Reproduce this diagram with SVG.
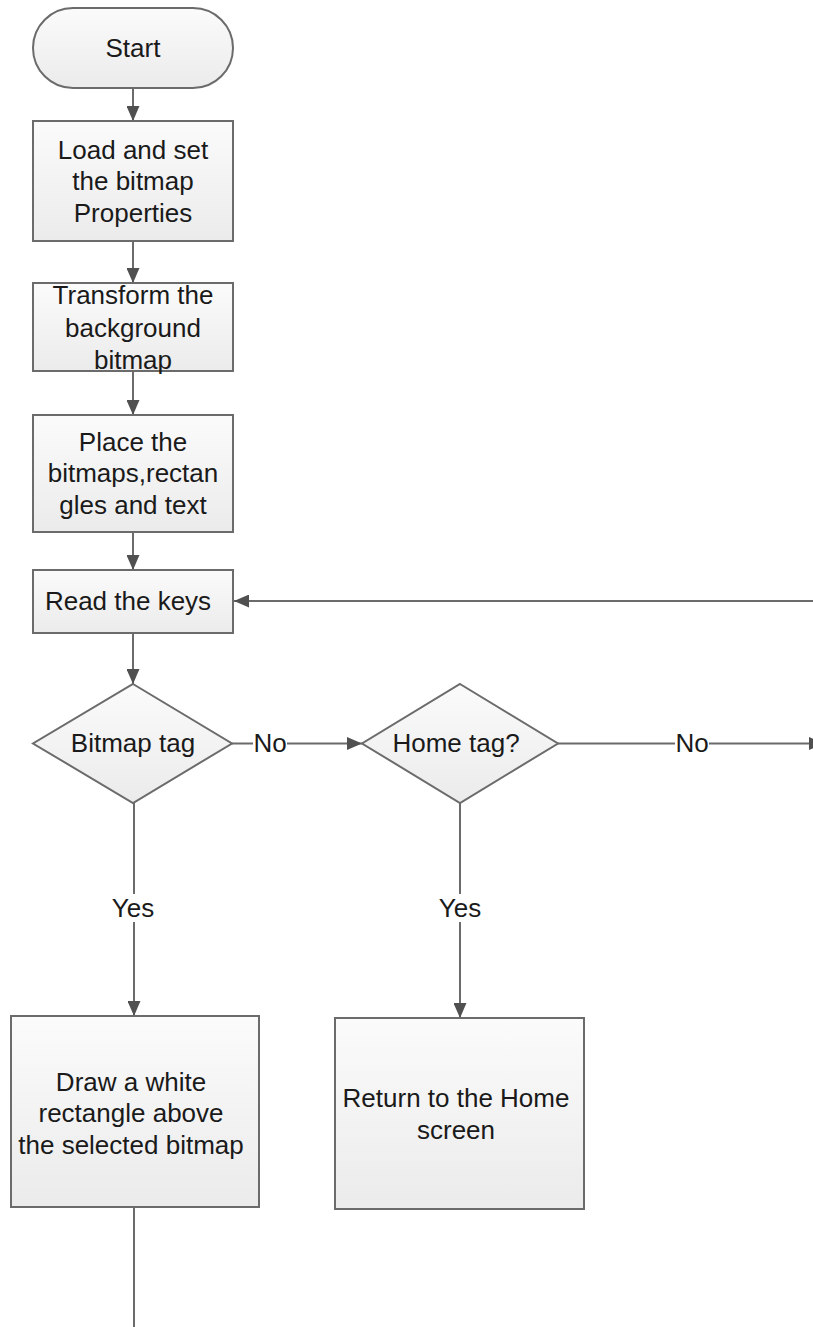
<svg xmlns="http://www.w3.org/2000/svg" width="813" height="1327" viewBox="0 0 813 1327">
<style>
.shape{fill:url(#g);stroke:#6b6b6b;stroke-width:2}
.t{font-family:"Liberation Sans",Arial,sans-serif;font-size:26px;fill:#1a1a1a;text-anchor:middle}
.c{fill:none;stroke:#6b6b6b;stroke-width:2}
.lbg{fill:#ffffff}
</style>
<defs>
<linearGradient id="g" x1="0" y1="0" x2="0" y2="1">
<stop offset="0" stop-color="#fbfbfb"/>
<stop offset="1" stop-color="#ebebeb"/>
</linearGradient>
<marker id="arr" viewBox="0 0 15 13" refX="15" refY="6.5" markerWidth="15" markerHeight="13" markerUnits="userSpaceOnUse" orient="auto">
<path d="M0,0 L15,6.5 L0,13 z" fill="#505050"/>
</marker>
</defs>
<rect width="813" height="1327" fill="#ffffff"/>
<g id="connectors">
<line class="c" x1="133" y1="88" x2="133" y2="121" marker-end="url(#arr)"/>
<line class="c" x1="133" y1="241" x2="133" y2="283" marker-end="url(#arr)"/>
<line class="c" x1="133" y1="371" x2="133" y2="415" marker-end="url(#arr)"/>
<line class="c" x1="133" y1="532" x2="133" y2="570" marker-end="url(#arr)"/>
<line class="c" x1="133" y1="633" x2="133" y2="684" marker-end="url(#arr)"/>
<line class="c" x1="820" y1="601" x2="234" y2="601" marker-end="url(#arr)"/>
<line class="c" x1="232" y1="743.5" x2="362" y2="743.5" marker-end="url(#arr)"/>
<line class="c" x1="558" y1="743.5" x2="824" y2="743.5" marker-end="url(#arr)"/>
<line class="c" x1="134" y1="803" x2="134" y2="1016" marker-end="url(#arr)"/>
<line class="c" x1="460" y1="803" x2="460" y2="1018" marker-end="url(#arr)"/>
<line class="c" x1="134" y1="1207" x2="134" y2="1327"/>
<rect class="lbg" x="253" y="731" width="34" height="26"/>
<text class="t" x="270" y="752">No</text>
<rect class="lbg" x="675" y="731" width="34" height="26"/>
<text class="t" x="692" y="752">No</text>
<rect class="lbg" x="110" y="894" width="46" height="28"/>
<text class="t" x="133" y="917">Yes</text>
<rect class="lbg" x="437" y="894" width="46" height="28"/>
<text class="t" x="460" y="917">Yes</text>
</g>
<g id="start">
<rect class="shape" x="33" y="8" width="200" height="80" rx="40" ry="40"/>
<text class="t" x="133" y="57">Start</text>
</g>
<g id="load">
<rect class="shape" x="33" y="121" width="200" height="120"/>
<text class="t" x="133" y="159">Load and set</text>
<text class="t" x="133" y="190">the bitmap</text>
<text class="t" x="133" y="222">Properties</text>
</g>
<g id="transform">
<rect class="shape" x="33" y="283" width="200" height="88"/>
<text class="t" x="133" y="304">Transform the</text>
<text class="t" x="133" y="337">background</text>
<text class="t" x="133" y="369">bitmap</text>
</g>
<g id="place">
<rect class="shape" x="33" y="415" width="200" height="117"/>
<text class="t" x="133" y="451">Place the</text>
<text class="t" x="133" y="482">bitmaps,rectan</text>
<text class="t" x="133" y="514">gles and text</text>
</g>
<g id="read">
<rect class="shape" x="33" y="570" width="200" height="63"/>
<text class="t" x="128" y="610">Read the keys</text>
</g>
<g id="bitmap-tag">
<polygon class="shape" points="133,684 232,743.5 133,803 33,743.5"/>
<text class="t" x="133" y="752">Bitmap tag</text>
</g>
<g id="home-tag">
<polygon class="shape" points="460,684 558,743.5 460,803 362,743.5"/>
<text class="t" x="456" y="752">Home tag?</text>
</g>
<g id="draw">
<rect class="shape" x="11" y="1016" width="248" height="191"/>
<text class="t" x="131" y="1091">Draw a white</text>
<text class="t" x="131" y="1122">rectangle above</text>
<text class="t" x="131" y="1154">the selected bitmap</text>
</g>
<g id="return">
<rect class="shape" x="335" y="1018" width="249" height="191"/>
<text class="t" x="456" y="1107">Return to the Home</text>
<text class="t" x="456" y="1139">screen</text>
</g>
</svg>
